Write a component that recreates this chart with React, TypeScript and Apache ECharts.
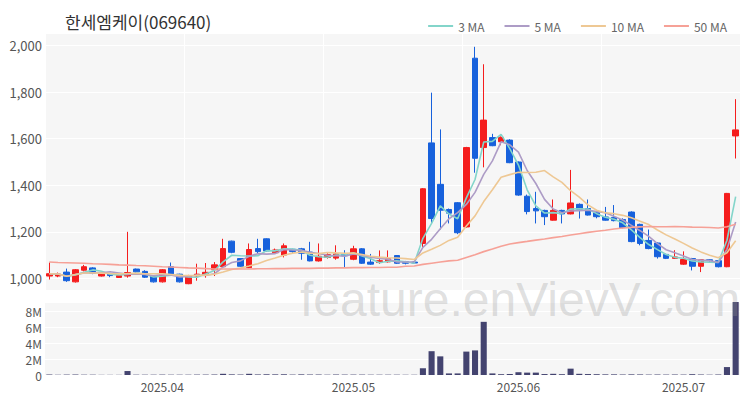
import React, { useEffect, useRef } from 'react';
import * as echarts from 'echarts';

const dates = [
  '2025-03-13','2025-03-14','2025-03-17','2025-03-18','2025-03-19','2025-03-20','2025-03-21','2025-03-24','2025-03-25','2025-03-26','2025-03-27','2025-03-28','2025-03-31',
  '2025-04-01','2025-04-02','2025-04-03','2025-04-04','2025-04-07','2025-04-08','2025-04-09','2025-04-10','2025-04-11','2025-04-14','2025-04-15','2025-04-16','2025-04-17','2025-04-18','2025-04-21','2025-04-22','2025-04-23','2025-04-24','2025-04-25','2025-04-28','2025-04-29','2025-04-30',
  '2025-05-02','2025-05-07','2025-05-08','2025-05-09','2025-05-12','2025-05-13','2025-05-14','2025-05-15','2025-05-16','2025-05-19','2025-05-20','2025-05-21','2025-05-22','2025-05-23','2025-05-26','2025-05-27','2025-05-28','2025-05-29','2025-05-30',
  '2025-06-02','2025-06-04','2025-06-05','2025-06-09','2025-06-10','2025-06-11','2025-06-12','2025-06-13','2025-06-16','2025-06-17','2025-06-18','2025-06-19','2025-06-20','2025-06-23','2025-06-24','2025-06-25','2025-06-26','2025-06-27','2025-06-30',
  '2025-07-01','2025-07-02','2025-07-03','2025-07-04','2025-07-07','2025-07-08','2025-07-09',
];

const opens = [
  1010,1010,1027,985,1035,1045,1010,1018,1004,1010,1040,1030,1010,
  985,1050,1018,977,1010,1016,1037,1050,1160,1085,1046,1128,1170,1110,1100,1125,1127,1113,1075,1090,1087,1104,
  1082,1127,1070,1068,1071,1098,1072,1070,1150,1582,1404,1296,1325,1221,1946,1562,1605,1587,1594,
  1500,1353,1300,1292,1250,1292,1277,1318,1300,1282,1264,1262,1253,1285,1232,1163,1152,1103,1086,
  1061,1085,1052,1080,1076,1050,1612,
];
const closes = [
  1020,1018,990,1037,1050,1022,1020,1012,1012,1025,1028,1005,985,
  1037,1020,985,1012,1018,1026,1058,1128,1112,1052,1124,1115,1118,1122,1140,1115,1108,1075,1095,1102,1105,1097,
  1127,1065,1061,1076,1084,1065,1065,1066,1385,1257,1293,1280,1196,1562,1516,1680,1570,1606,1497,
  1358,1287,1290,1265,1292,1277,1324,1297,1272,1265,1250,1248,1218,1158,1150,1128,1093,1086,1092,
  1081,1052,1080,1076,1050,1365,1638,
];
const lows = [
  995,1005,985,982,1030,1018,1008,1005,1002,1003,1025,1002,982,
  982,1018,982,975,990,1003,1010,1045,1108,1050,1044,1105,1115,1105,1090,1105,1080,1073,1072,1085,1080,1048,
  1078,1062,1058,1062,1068,1062,1060,1063,1135,1238,1210,1236,1190,1218,1454,1477,1568,1572,1495,
  1355,1275,1236,1229,1248,1236,1275,1257,1270,1258,1248,1245,1215,1155,1142,1125,1085,1083,1084,
  1058,1034,1027,1072,1047,1048,1515,
];
const highs = [
  1068,1025,1042,1040,1058,1048,1024,1020,1016,1200,1042,1035,1012,
  1040,1068,1020,1015,1063,1066,1070,1170,1162,1086,1150,1170,1172,1128,1150,1127,1131,1157,1150,1108,1142,1121,
  1140,1130,1105,1120,1120,1100,1075,1073,1388,1798,1640,1300,1328,1565,1995,1920,1621,1610,1598,
  1502,1360,1372,1295,1339,1295,1466,1322,1339,1290,1307,1315,1258,1288,1235,1210,1155,1106,1121,
  1116,1088,1083,1083,1078,1367,1770,
];
const volumes = [
  60000,30000,50000,60000,40000,40000,20000,20000,20000,500000,40000,40000,40000,
  50000,40000,40000,40000,50000,50000,60000,150000,80000,60000,150000,70000,90000,80000,90000,50000,80000,60000,60000,40000,60000,50000,
  50000,50000,40000,40000,40000,40000,30000,30000,850000,3000000,2350000,200000,200000,2950000,3100000,6700000,200000,100000,120000,
  350000,300000,300000,120000,150000,100000,800000,150000,120000,100000,80000,80000,60000,80000,70000,50000,60000,50000,60000,
  50000,100000,60000,40000,60000,1000000,9200000,
];
// 50-day average values for the days whose window starts before the first visible day
const ma50Lead = [
  1070,1068,1067,1066,1065,1063,1062,1060,1058,1057,1055,1054,1052,
  1050,1049,1047,1045,1044,1042,1040,1040,1040,1040,1040,1041,1041,1042,1042,1043,1043,1043,1044,1044,1045,1045,
  1046,1046,1047,1047,1048,1048,1052,1053,1060,1065,1070,1075,1078,1090,
];
const priceTicks = [1000, 1200, 1400, 1600, 1800, 2000];
const maNames = ['3 MA', '5 MA', '10 MA', '50 MA'];
const maPeriods = [3, 5, 10, 50];
const maColors = ['#83d5ca', '#ad9cc6', '#eec894', '#f6a197'];

function movingAverage(n: number): number[] {
  return closes.map((_, i) => {
    if (n === 50 && i < 49) return ma50Lead[i];
    const s = Math.max(0, i - n + 1);
    const w = closes.slice(s, i + 1);
    return Math.round((w.reduce((a, b) => a + b, 0) / w.length) * 10) / 10;
  });
}

function isMonthStart(i: number): boolean {
  return i > 0 && dates[i].slice(0, 7) !== dates[i - 1].slice(0, 7);
}

export default function App() {
  const ref = useRef<HTMLDivElement>(null);
  useEffect(() => {
    document.body.style.margin = '0';
    if (!ref.current) return;
    const chart = echarts.init(ref.current, null, { renderer: 'svg' });
    const font = '"Noto Sans CJK KR", "Noto Sans", sans-serif';
    const candleData = opens.map((o, i) => [o, closes[i], lows[i], highs[i]]);
    const volMax = Math.max(...volumes);
    chart.setOption({
      animation: false,
      backgroundColor: '#ffffff',
      textStyle: { fontFamily: font },
      title: {
        text: '한세엠케이(069640)',
        left: 60,
        top: 8,
        textStyle: { fontSize: 17, fontWeight: 'normal', color: '#333', fontFamily: font },
      },
      legend: {
        data: maNames,
        right: 18,
        top: 15,
        icon: 'rect',
        itemWidth: 25,
        itemHeight: 2,
        itemGap: 20,
        textStyle: { fontSize: 12, color: '#666', fontFamily: font },
      },
      grid: [
        { left: 45, right: 10, top: 34, height: 256, show: true, backgroundColor: '#f6f6f6', borderWidth: 0 },
        { left: 45, right: 10, top: 302, height: 73, show: true, backgroundColor: '#f6f6f6', borderWidth: 0 },
      ],
      xAxis: [
        {
          type: 'category', data: dates, gridIndex: 0, boundaryGap: true,
          axisLine: { show: false }, axisTick: { show: false }, axisLabel: { show: false },
          splitLine: { show: true, interval: (i: number) => i % 16 === 0, lineStyle: { color: '#ffffff', width: 1 } },
        },
        {
          type: 'category', data: dates, gridIndex: 1, boundaryGap: true,
          axisLine: { show: false }, axisTick: { show: false },
          axisLabel: {
            interval: (i: number) => isMonthStart(i),
            formatter: (v: string) => v.slice(0, 7).replace('-', '.'),
            fontSize: 12, color: '#555', margin: 5, fontFamily: font,
          },
          splitLine: { show: false },
        },
      ],
      yAxis: [
        {
          type: 'value', gridIndex: 0, min: 950, max: 2050, interval: 50,
          axisLine: { show: false }, axisTick: { show: false },
          axisLabel: {
            formatter: (v: number) => (priceTicks.includes(v) ? v.toLocaleString('en-US') : ''),
            fontSize: 13, color: '#555', margin: 3, fontFamily: font,
          },
          splitLine: { show: false },
        },
        {
          type: 'value', gridIndex: 1, min: 0, max: volMax, interval: 2000000,
          axisLine: { show: false }, axisTick: { show: false },
          axisLabel: {
            formatter: (v: number) => (v === 0 ? '0' : v % 2000000 === 0 ? v / 1000000 + 'M' : ''),
            fontSize: 12, lineHeight: 13, color: '#555', margin: 3, fontFamily: font,
          },
          splitLine: { show: true, lineStyle: { color: '#ffffff', width: 1 } },
        },
      ],
      graphic: [
        {
          type: 'text', x: 300, y: 299, z: 100, silent: true,
          style: {
            text: 'feature.enVievV.com',
            font: '48px "Liberation Sans", Arial, sans-serif',
            fill: 'rgba(150,150,150,0.3)',
            verticalAlign: 'middle',
          },
        },
      ],
      series: [
        {
          type: 'candlestick', name: 'price', xAxisIndex: 0, yAxisIndex: 0, data: candleData,
          barWidth: '70%',
          itemStyle: { color: '#f51d1d', color0: '#1761dc', borderColor: '#f51d1d', borderColor0: '#1761dc', borderWidth: 1 },
          markLine: {
            silent: true, symbol: 'none', label: { show: false },
            lineStyle: { color: '#ffffff', width: 1, type: 'solid' },
            data: priceTicks.map((v) => ({ yAxis: v })),
            z: 1,
          },
        },
        ...maNames.map((name, k) => ({
          type: 'line', name, xAxisIndex: 0, yAxisIndex: 0, data: movingAverage(maPeriods[k]),
          symbol: 'none', showSymbol: false, smooth: false,
          itemStyle: { color: maColors[k] },
          lineStyle: { color: maColors[k], width: 1.6 },
          z: 3,
        })),
        {
          type: 'bar', name: 'volume', xAxisIndex: 1, yAxisIndex: 1, data: volumes,
          barWidth: '70%', itemStyle: { color: '#43436f' },
        },
      ],
    });
    return () => chart.dispose();
  }, []);
  return <div ref={ref} style={{ width: 750, height: 400 }} />;
}
